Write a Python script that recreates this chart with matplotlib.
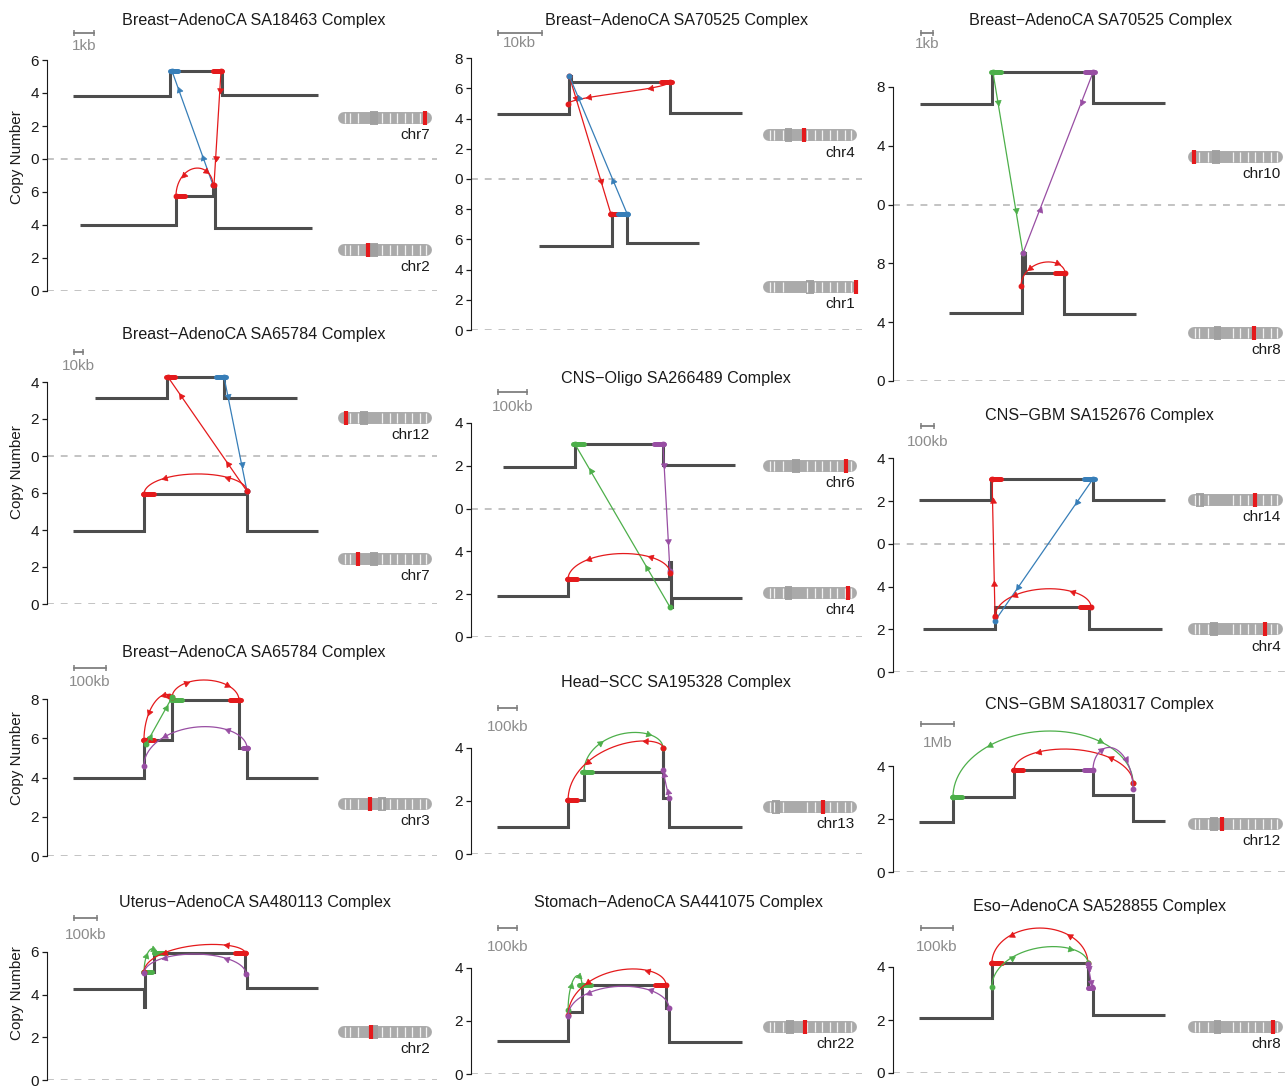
import numpy as np
import matplotlib.pyplot as plt

plt.rcParams['font.family'] = ['Liberation Sans', 'DejaVu Sans']

W, H = 1288, 1086

# ---- data -----------------------------------------------------------------
titles = ['Breast\u2212AdenoCA SA18463 Complex', 'Breast\u2212AdenoCA SA70525 Complex',
          'Breast\u2212AdenoCA SA70525 Complex', 'Breast\u2212AdenoCA SA65784 Complex',
          'CNS\u2212Oligo SA266489 Complex', 'CNS\u2212GBM SA152676 Complex',
          'Breast\u2212AdenoCA SA65784 Complex', 'Head\u2212SCC SA195328 Complex',
          'CNS\u2212GBM SA180317 Complex', 'Uterus\u2212AdenoCA SA480113 Complex',
          'Stomach\u2212AdenoCA SA441075 Complex', 'Eso\u2212AdenoCA SA528855 Complex']

# scale bar: length in kb, label, start position (kb)
scale_kb = [1, 10, 1, 10, 100, 100, 100, 100, 1000, 100, 100, 100]
scale_text = ['1kb', '10kb', '1kb', '10kb', '100kb', '100kb', '100kb', '100kb',
              '1Mb', '100kb', '100kb', '100kb']
scale_start = [1.35, 6.1, 2.33, 30, 93, 215, 84, 142, 848, 117, 142, 87.5]

# tracks: index 0 = lower chromosome, 1 = upper chromosome
chroms = [['chr2', 'chr7'], ['chr1', 'chr4'], ['chr8', 'chr10'], ['chr7', 'chr12'],
          ['chr4', 'chr6'], ['chr4', 'chr14'], ['chr3'], ['chr13'], ['chr12'],
          ['chr2'], ['chr22'], ['chr8']]
track_shift = [8, 10, 12, 8, 6, 6, 0, 0, 0, 0, 0, 0]
yticks = [[[0, 2, 4, 6], [0, 2, 4, 6]], [[0, 2, 4, 6, 8], [0, 2, 4, 6, 8]],
          [[0, 4, 8], [0, 4, 8]], [[0, 2, 4, 6], [0, 2, 4]],
          [[0, 2, 4], [0, 2, 4]], [[0, 2, 4], [0, 2, 4]],
          [[0, 2, 4, 6, 8]], [[0, 2, 4]], [[0, 2, 4]], [[0, 2, 4, 6]],
          [[0, 2, 4]], [[0, 2, 4]]]

# copy-number segments (breakpoints in kb, one CN value per segment)
seg_x = [
    [[1.65, 6.45, 8.3, 8.4, 13.25], [1.3, 6.15, 8.75, 13.55]],
    [[15.5, 32.0, 35.5, 51.8], [5.9, 22.3, 22.7, 45.2, 61.6]],
    [[4.67, 10.75, 11.0, 14.25, 20.25], [2.25, 8.25, 16.67, 22.67]],
    [[28.9, 107.8, 222.2, 301.1], [53.3, 133.3, 196.7, 277.8]],
    [[90, 334.5, 683, 688, 693, 934.5], [110, 359, 662, 910]],
    [[231, 785, 1508, 2069], [200, 754, 1538, 2092]],
    [[81, 303, 391, 600, 625, 847]],
    [[137, 511, 595, 1008, 1013, 1042, 1426]],
    [[788, 1818, 3667, 6061, 7273, 8242]],
    [[113, 422, 425, 465, 861, 870, 1178]],
    [[137, 511, 584, 1026, 1042, 1426]],
    [[81, 309, 609, 625, 850]],
]
seg_cn = [
    [[4.0, 5.76, 6.42, 3.82], [3.82, 5.33, 3.85]],
    [[5.56, 7.68, 5.76], [4.3, 6.85, 6.45, 4.37]],
    [[4.6, 8.7, 7.35, 4.55], [6.87, 9.0, 6.94]],
    [[3.95, 5.95, 3.95], [3.13, 4.27, 3.13]],
    [[1.92, 2.7, 3.5, 1.4, 1.82], [1.96, 3.0, 2.06]],
    [[2.0, 3.05, 2.0], [2.06, 3.04, 2.06]],
    [[3.97, 5.9, 7.95, 5.5, 3.97]],
    [[1.02, 2.03, 3.08, 4.0, 2.1, 1.0]],
    [[1.89, 2.83, 3.85, 2.9, 1.92]],
    [[4.26, 3.42, 5.06, 5.95, 4.96, 4.3]],
    [[1.24, 2.33, 3.35, 2.48, 1.2]],
    [[2.08, 4.15, 3.2, 2.19]],
]

# breakpoint highlights: (track, x0, x1, cn, colour)
highlights = [
    [(1, 6.15, 6.55, 5.33, 'b'), (1, 8.3, 8.75, 5.33, 'r'), (0, 6.45, 6.9, 5.76, 'r')],
    [(1, 43.2, 45.7, 6.45, 'r'), (0, 31.6, 33.4, 7.68, 'r'), (0, 33.4, 35.7, 7.68, 'b')],
    [(1, 8.17, 9.0, 9.0, 'g'), (1, 16.0, 16.83, 9.0, 'p'), (0, 13.5, 14.33, 7.35, 'r')],
    [(1, 132.2, 142.2, 4.27, 'r'), (1, 187.8, 198.9, 4.27, 'b'), (0, 106.7, 118.9, 5.95, 'r')],
    [(1, 352, 390, 3.0, 'g'), (1, 631, 666, 3.0, 'p'), (0, 331, 366, 2.7, 'r')],
    [(1, 754, 831, 3.04, 'r'), (1, 1469, 1554, 3.04, 'b'), (0, 1438, 1523, 3.05, 'r')],
    [(0, 300, 334, 5.9, 'r'), (0, 388, 422, 7.95, 'g'), (0, 572, 606, 7.95, 'r'),
     (0, 612, 628, 5.5, 'p')],
    [(0, 505, 558, 2.03, 'r'), (0, 584, 637, 3.08, 'g')],
    [(0, 1788, 2091, 2.83, 'g'), (0, 3636, 3939, 3.85, 'r'), (0, 5788, 6061, 3.85, 'p')],
    [(0, 417, 457, 5.06, 'g'), (0, 465, 513, 5.95, 'g'), (0, 817, 865, 5.95, 'r')],
    [(0, 568, 632, 3.35, 'g'), (0, 968, 1026, 3.35, 'r')],
    [(0, 306, 341, 4.15, 'r'), (0, 609, 625, 3.2, 'p')],
]

# rearrangements: (colour, track1, x1, cn1, track2, x2, cn2, arc peak or None, arrow dirs)
svs = [
    [('b', 1, 6.25, 5.33, 0, 8.3, 6.42, None, (-1, -1)),
     ('r', 1, 8.7, 5.33, 0, 8.35, 6.42, None, (1, 1)),
     ('r', 0, 6.45, 5.76, 0, 8.3, 6.42, 7.45, (-1, 1))],
    [('r', 1, 22.0, 4.95, 1, 45.2, 6.45, 7.35, (-1, -1)),
     ('r', 1, 22.3, 6.85, 0, 31.8, 7.68, None, (1, 1)),
     ('b', 1, 22.3, 6.85, 0, 35.5, 7.68, None, (-1, -1))],
    [('g', 1, 8.33, 9.0, 0, 10.83, 8.7, None, (1, 1)),
     ('p', 1, 16.67, 9.0, 0, 10.83, 8.7, None, (1, -1)),
     ('r', 0, 10.67, 6.45, 0, 14.33, 7.35, 8.1, (-1, 1))],
    [('r', 1, 134.4, 4.27, 0, 222.2, 6.1, None, (-1, -1)),
     ('b', 1, 196.7, 4.27, 0, 222.2, 6.1, None, (1, 1)),
     ('r', 0, 107.8, 5.95, 0, 222.2, 6.1, 7.03, (-1, -1))],
    [('g', 1, 359, 3.0, 0, 686, 1.4, None, (-1, -1)),
     ('p', 1, 662, 3.0, 0, 686, 3.08, None, (1, 1)),
     ('r', 0, 334.5, 2.7, 0, 686, 3.0, 3.9, (-1, -1))],
    [('r', 1, 762, 3.04, 0, 785, 2.57, None, (-1, -1)),
     ('b', 1, 1538, 3.04, 0, 785, 2.4, None, (1, 1)),
     ('r', 0, 785, 2.6, 0, 1523, 3.05, 3.9, (-1, -1))],
    [('r', 0, 391, 8.1, 0, 600, 7.95, 8.98, (1, 1)),
     ('r', 0, 303, 5.9, 0, 381, 8.16, 8.25, (-1, -1)),
     ('g', 0, 309, 5.7, 0, 391, 8.1, None, (1, 1)),
     ('p', 0, 303, 4.6, 0, 625, 5.5, 6.6, (-1, -1))],
    [('g', 0, 595, 3.1, 0, 1010, 4.0, 4.57, (1, 1)),
     ('r', 0, 511, 2.03, 0, 1010, 4.0, 4.25, (-1, -1)),
     ('p', 0, 1010, 3.15, 0, 1042, 2.1, None, (-1, -1))],
    [('g', 0, 1818, 2.83, 0, 7273, 3.36, 5.32, (-1, 1)),
     ('r', 0, 3667, 3.85, 0, 7273, 3.36, 4.64, (-1, -1)),
     ('p', 0, 6061, 3.85, 0, 7273, 3.13, 4.7, (1, 1))],
    [('g', 0, 422, 5.06, 0, 470, 5.95, 6.15, (1, 1)),
     ('r', 0, 422, 5.06, 0, 861, 5.95, 6.35, (-1, -1)),
     ('p', 0, 422, 5.0, 0, 865, 4.96, 5.9, (-1, -1))],
    [('g', 0, 511, 2.4, 0, 584, 3.35, 3.7, (1, 1)),
     ('r', 0, 511, 2.2, 0, 1026, 3.35, 3.95, (-1, -1)),
     ('p', 0, 511, 2.18, 0, 1042, 2.48, 3.3, (-1, -1))],
    [('r', 0, 309, 4.15, 0, 609, 4.15, 5.47, (-1, -1)),
     ('g', 0, 309, 3.25, 0, 609, 4.15, 4.77, (1, 1)),
     ('p', 0, 609, 4.1, 0, 622, 3.25, None, (1, 1))],
]

# ideograms: position of the red locus mark along the chromosome, and height (CN)
ideo_frac = [[0.32, 0.925], [0.99, 0.44], [0.7, 0.06], [0.21, 0.08], [0.9, 0.88],
             [0.81, 0.71], [0.34], [0.64], [0.36], [0.35], [0.45], [0.9]]
ideo_cn = [[2.5, 2.5], [2.85, 2.9], [3.27, 3.27], [2.43, 2.05], [2.05, 2.0], [2.0, 2.06],
           [2.65], [1.77], [1.81], [2.25], [1.77], [1.74]]
centromere = {'chr1': 0.5, 'chr2': 0.38, 'chr3': 0.47, 'chr4': 0.27, 'chr6': 0.35,
              'chr7': 0.38, 'chr8': 0.31, 'chr10': 0.29, 'chr12': 0.27, 'chr13': 0.14,
              'chr14': 0.13, 'chr22': 0.29}
band_lines = [0.07, 0.12, 0.21, 0.47, 0.55, 0.63, 0.71, 0.79, 0.87, 0.94]

# ---- layout (pixels) --------------------------------------------------------
spine_px = [47, 471, 893] * 4
right_px = [437, 862, 1288] * 4
zero_px = [291, 330, 381, 604, 637, 672, 856, 854, 872, 1080, 1074, 1073]
cn_px = [16.5, 15.1, 14.7, 18.5, 21.4, 21.35, 19.6, 26.6, 26.5, 21.35, 26.6, 26.5]
kb_px = [20, 4.4, 12, 0.9, 0.29, 0.13, 0.32, 0.19, 0.033, 0.23, 0.19, 0.32]
title_xy = [(254, 20), (677, 20), (1101, 20), (254, 335), (676, 379), (1099, 415),
            (254, 652), (676, 682), (1099, 705), (255, 902), (679, 902), (1100, 907)]
scalebar_y = [33, 33, 33, 352, 392, 426, 668, 708, 724, 918, 928, 928]
scalelab_y = [46, 43, 44, 366, 407, 442, 682, 727, 743, 935, 947, 947]
ylab_y = [157, 472, 758, 993]

COL = {'r': '#E41A1C', 'b': '#377EB8', 'g': '#4DAF4A', 'p': '#984EA3'}
CN_COL = '#4D4D4D'
TXT = '#1A1A1A'
FS = 11
FS_TITLE = 11.6


def sv_path(x1, y1, x2, y2, peak):
    t = np.linspace(0, 1, 161)
    base = y1 + (y2 - y1) * t
    if peak is None:
        return x1 + (x2 - x1) * t, base, (0.16, 0.76)
    hs = np.linspace(0, 20, 4001)
    tops = np.array([np.max(base + h * np.sin(np.pi * t)) for h in hs])
    h = np.interp(peak, tops, hs)
    x = x1 + (x2 - x1) * (1 - np.cos(np.pi * t)) / 2
    return x, base + h * np.sin(np.pi * t), (0.3, 0.72)


def draw_arrows(ax, x, y, ts, dirs, color):
    n = len(x)
    for tt, d in zip(ts, dirs):
        k = int(round(tt * (n - 1)))
        a = ax.transData.transform((x[max(k - 2, 0)], y[max(k - 2, 0)]))
        b = ax.transData.transform((x[min(k + 2, n - 1)], y[min(k + 2, n - 1)]))
        ang = np.degrees(np.arctan2(b[1] - a[1], b[0] - a[0]))
        if d < 0:
            ang += 180
        ax.plot(x[k], y[k], ls='', marker=(3, 0, ang - 90), ms=5, color=color,
                mec=color, mew=0.5, zorder=6)


def draw_ideogram(ax, name, frac, y):
    tr = ax.get_yaxis_transform()
    x0, x1 = 0.747, 0.987
    cap = 0.0155
    ax.plot([x0 + cap, x1 - cap], [y, y], lw=8.6, color='#AAAAAA',
            solid_capstyle='round', transform=tr, zorder=3, clip_on=False)
    c = x0 + centromere[name] * (x1 - x0)
    ax.plot([c - 0.01, c + 0.01], [y, y], lw=10.0, color='#A0A0A0',
            solid_capstyle='butt', transform=tr, zorder=3, clip_on=False)
    bx = [x0 + f * (x1 - x0) for f in band_lines]
    ax.plot(bx, [y] * len(bx), ls='', marker='|', ms=7.0, mew=0.9, color='#F2F2F2',
            transform=tr, zorder=3.1, clip_on=False)
    ax.plot([x0 + frac * (x1 - x0)], [y], ls='', marker='|', ms=10.5, mew=3.0,
            color=COL['r'], transform=tr, zorder=3.2, clip_on=False)
    ax.annotate(name, xy=(x1 - 0.005, y), xycoords=tr, xytext=(0, -12.5),
                textcoords='offset points', ha='right', va='center', fontsize=FS,
                color=TXT)


fig = plt.figure(figsize=(W / 100, H / 100), dpi=100)

for i in range(12):
    left, right = spine_px[i], right_px[i]
    zero = zero_px[i]
    top = title_xy[i][1] + 12
    ax = fig.add_axes([left / W, 1 - zero / H, (right - left) / W, (zero - top) / H])
    ax.set_xlim(0, (right - left) / kb_px[i])
    ax.set_ylim(0, (zero - top) / cn_px[i])
    for s in ['top', 'right', 'bottom']:
        ax.spines[s].set_visible(False)
    ax.set_xticks([])
    ax.patch.set_visible(False)

    shift = [0, track_shift[i]]
    ticks, labels = [], []
    for tr_i, tk in enumerate(yticks[i]):
        ticks += [t + shift[tr_i] for t in tk]
        labels += [str(t) for t in tk]
        ax.axhline(shift[tr_i], color='#B3B3B3', lw=1.1, dashes=(4.5, 4.5), zorder=1)
    ax.set_yticks(ticks, labels)
    ax.spines['left'].set_bounds(0, max(ticks))
    ax.spines['left'].set_color(TXT)
    ax.tick_params(axis='y', length=3.6, width=0.9, colors=TXT, labelsize=FS, pad=2)

    # copy-number profiles
    for tr_i in range(len(chroms[i])):
        vals = np.array(seg_cn[i][tr_i]) + shift[tr_i]
        ax.stairs(vals, seg_x[i][tr_i], baseline=None, color=CN_COL, lw=2.2, zorder=2)
        draw_ideogram(ax, chroms[i][tr_i], ideo_frac[i][tr_i],
                      ideo_cn[i][tr_i] + shift[tr_i])

    for tr_i, a, b, cn, c in highlights[i]:
        ax.plot([a, b], [cn + shift[tr_i]] * 2, color=COL[c], lw=3.6,
                solid_capstyle='round', zorder=4)

    for c, t1, x1, c1, t2, x2, c2, peak, dirs in svs[i]:
        y1, y2 = c1 + shift[t1], c2 + shift[t2]
        x, y, ts = sv_path(x1, y1, x2, y2, peak)
        ax.plot(x, y, color=COL[c], lw=0.9, zorder=5)
        ax.plot([x1, x2], [y1, y2], ls='', marker='o', ms=3.2, color=COL[c], zorder=5)
        draw_arrows(ax, x, y, ts, dirs, COL[c])

    # scale bar
    sb = ax.get_xaxis_transform()
    yb = (zero - scalebar_y[i]) / (zero - top)
    yl = (zero - scalelab_y[i]) / (zero - top)
    xs0 = scale_start[i]
    xs1 = xs0 + scale_kb[i]
    ax.plot([xs0, xs1], [yb, yb], color='#7F7F7F', lw=1.3, transform=sb, clip_on=False,
            marker='|', ms=5, mew=1.1)
    ax.text((xs0 + xs1) / 2, yl, scale_text[i], transform=sb, ha='center', va='center',
            fontsize=FS, color='#8C8C8C')

    fig.text(title_xy[i][0] / W, 1 - title_xy[i][1] / H, titles[i], ha='center',
             va='center', fontsize=FS_TITLE, color=TXT)

for y in ylab_y:
    fig.text(17 / W, 1 - y / H, 'Copy Number', rotation=90, ha='center', va='center',
             fontsize=FS, color=TXT)

fig.savefig('out.png', dpi=100)
